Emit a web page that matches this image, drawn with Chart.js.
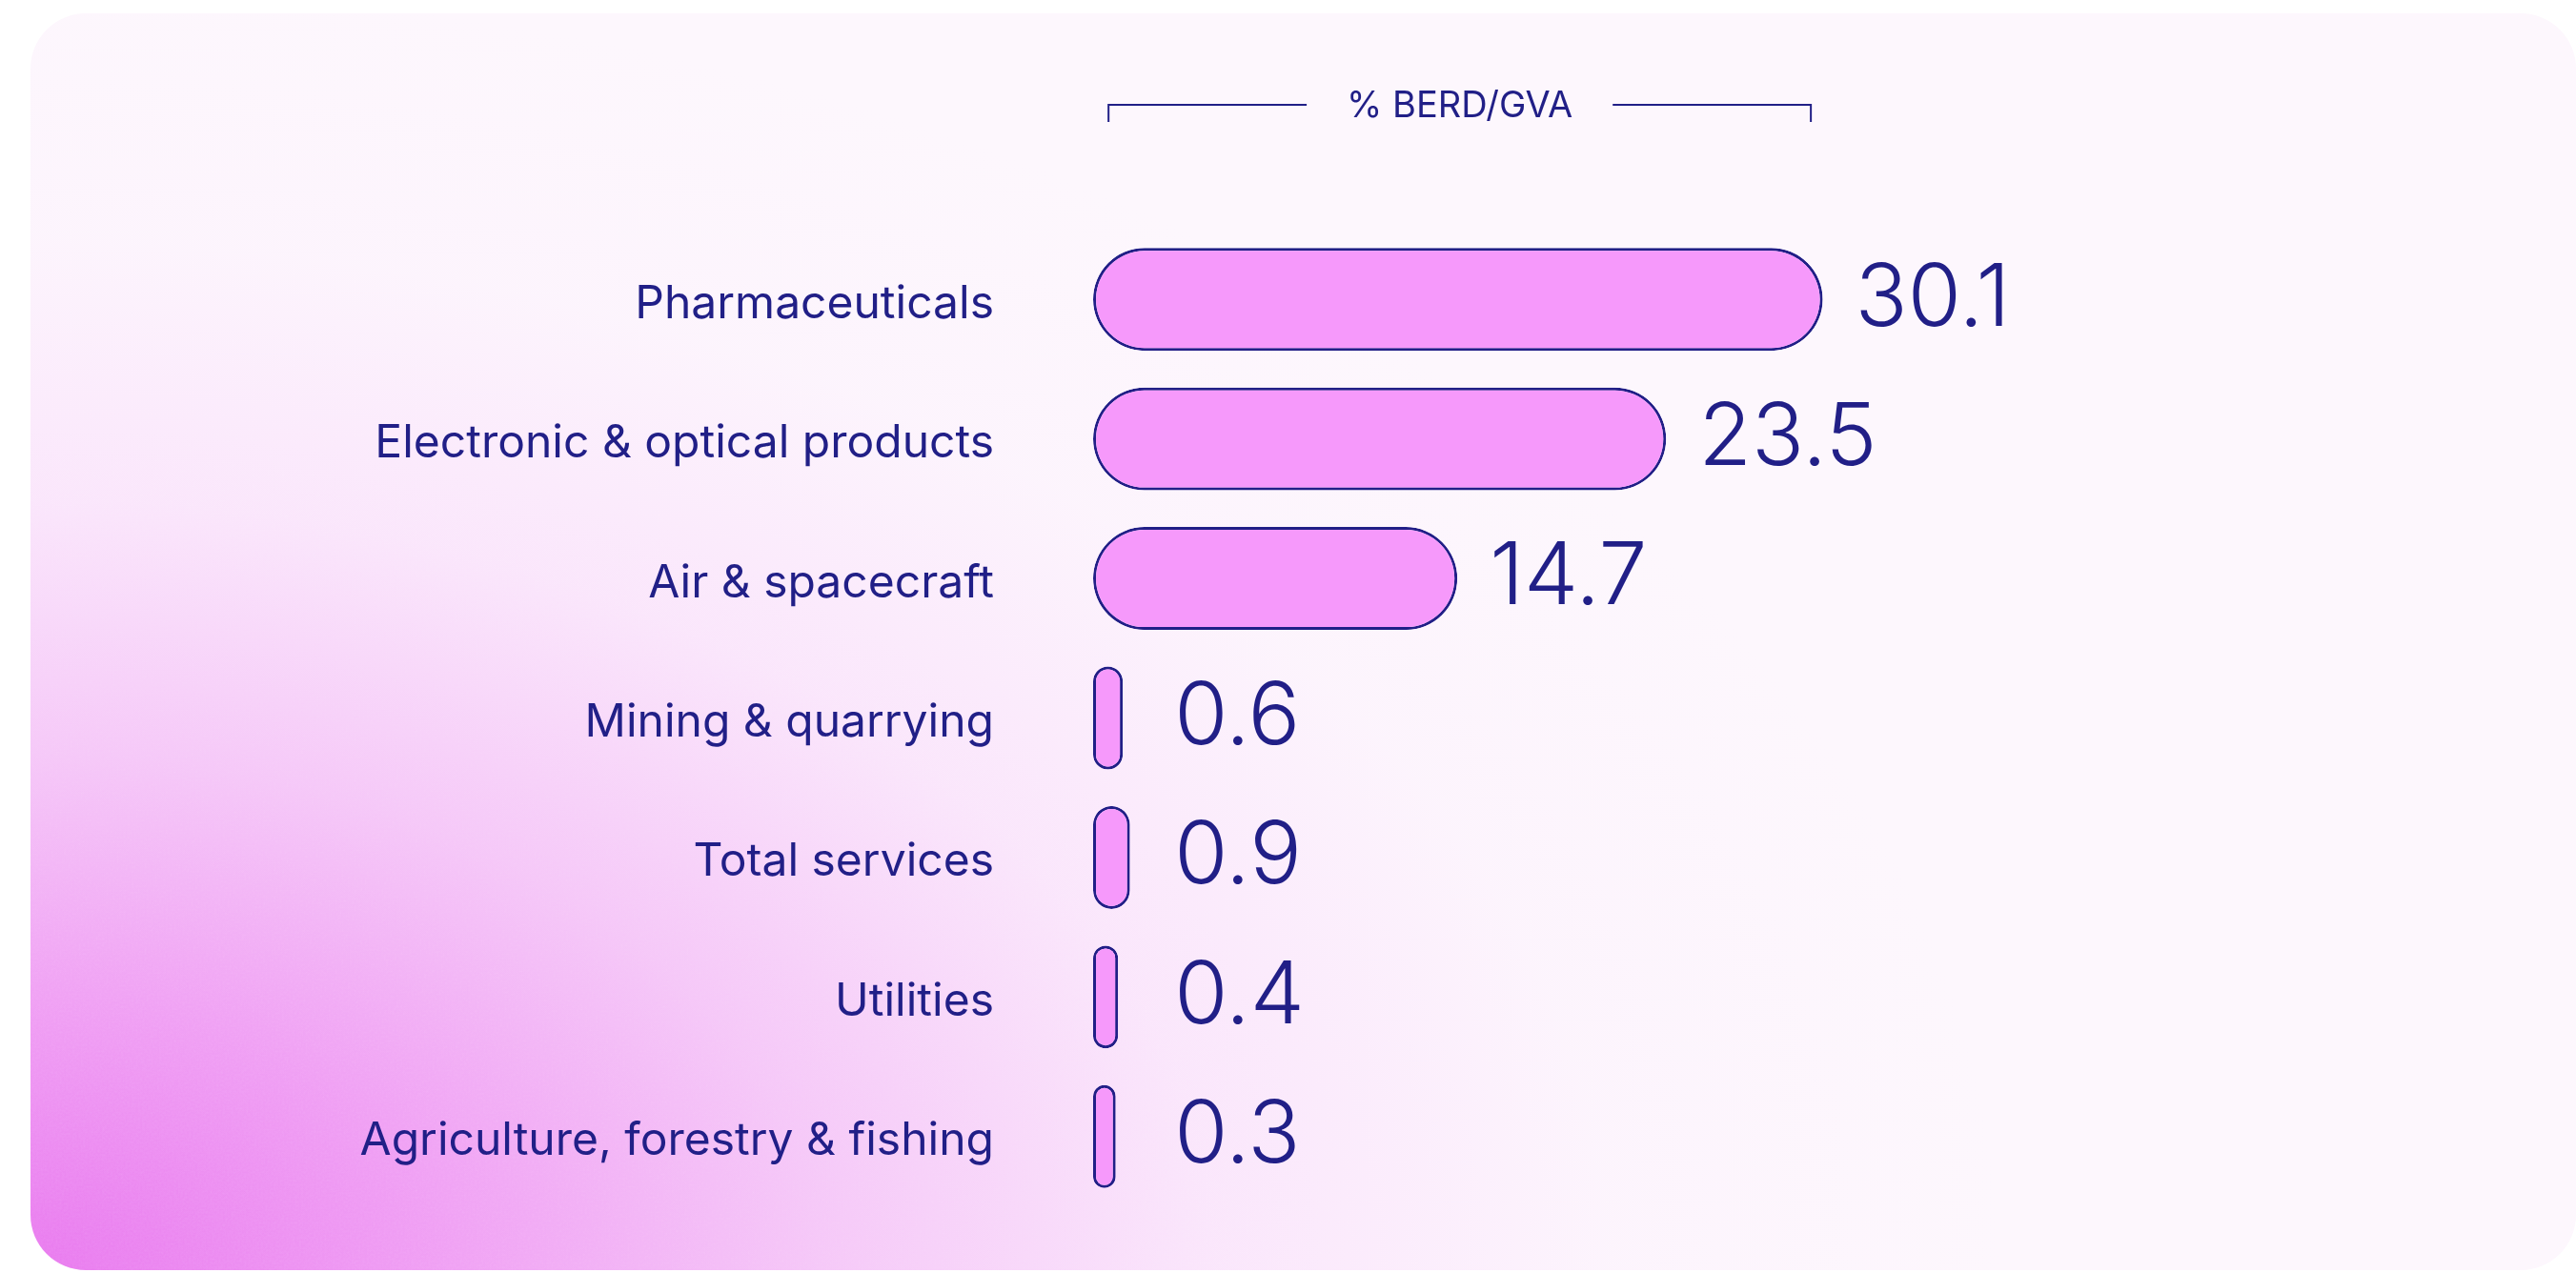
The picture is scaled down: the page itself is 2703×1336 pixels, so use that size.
<!DOCTYPE html>
<html>
<head>
<meta charset="utf-8">
<script src="https://cdn.jsdelivr.net/npm/chart.js@4.4.1/dist/chart.umd.min.js"></script>
<style>
  html, body { margin: 0; padding: 0; width: 2703px; height: 1336px; background: #ffffff; overflow: hidden; }
  #card { position: absolute; left: 32px; top: 14px; width: 2671px; height: 1319px; border-radius: 58px; overflow: hidden; background: #fdf7fd; }
  #grad { position: absolute; inset: 0;
    background: radial-gradient(ellipse 2300px 1500px at 0% 100%,
      rgba(232,118,238,0.98) 0%, rgba(237,142,242,0.85) 18%, rgba(241,170,245,0.62) 36%, rgba(246,203,249,0.38) 54%, rgba(250,230,252,0.16) 72%, rgba(253,247,253,0) 90%); }
  #noise { position: absolute; inset: 0; opacity: 0.35; mix-blend-mode: soft-light;
    -webkit-mask-image: radial-gradient(ellipse 2300px 1500px at 0% 100%, #000 0%, rgba(0,0,0,0.6) 45%, rgba(0,0,0,0) 80%);
            mask-image: radial-gradient(ellipse 2300px 1500px at 0% 100%, #000 0%, rgba(0,0,0,0.6) 45%, rgba(0,0,0,0) 80%); }
  #wrap { position: absolute; left: 0; top: 0; width: 2703px; height: 1336px; }
  canvas { display: block; }
</style>
</head>
<body>
<div id="card">
  <div id="grad"></div>
  <svg id="noise" width="2671" height="1319" xmlns="http://www.w3.org/2000/svg">
    <filter id="nf"><feTurbulence type="fractalNoise" baseFrequency="0.45" numOctaves="3" seed="3"/><feColorMatrix type="saturate" values="0"/></filter>
    <rect width="100%" height="100%" filter="url(#nf)"/>
  </svg>
</div>
<div id="wrap"><canvas id="chart" width="2703" height="1336" style="width:2703px;height:1336px"></canvas></div>
<script>
// ---- data ----
const categories = [
  'Pharmaceuticals',
  'Electronic & optical products',
  'Air & spacecraft',
  'Mining & quarrying',
  'Total services',
  'Utilities',
  'Agriculture, forestry & fishing'
];
const values = [30.1, 23.5, 14.7, 0.6, 0.9, 0.4, 0.3];
const valueLabels = ['30.1', '23.5', '14.7', '0.6', '0.9', '0.4', '0.3'];
const axisTitle = '% BERD/GVA';
const barBase = -0.65;          // bars begin slightly left of zero (pill ends)
const xMin = -0.65;
const xMax = 60;
const bracketRange = [0, 29.6]; // span of the header bracket, in data units

// ---- styles ----
const NAVY = '#211f87';
const PINK = '#f699fb';

const valueLabelPlugin = {
  id: 'valueLabels',
  afterDatasetsDraw(chart) {
    const ctx = chart.ctx;
    const xs = chart.scales.x;
    const minX = xs.getPixelForValue(0) + 69;
    const meta = chart.getDatasetMeta(0);
    ctx.save();
    ctx.fillStyle = NAVY;
    ctx.font = '300 91px Inter, "Liberation Sans", sans-serif';
    ctx.textAlign = 'left';
    ctx.textBaseline = 'middle';
    meta.data.forEach((bar, i) => {
      const x = Math.max(bar.x + 34, minX);
      ctx.fillText(valueLabels[i], x, bar.y);
    });
    ctx.restore();
  }
};

const bracketPlugin = {
  id: 'bracket',
  afterDraw(chart) {
    const ctx = chart.ctx;
    const xs = chart.scales.x;
    const x0 = xs.getPixelForValue(bracketRange[0]);
    const x1 = xs.getPixelForValue(bracketRange[1]);
    const y = 110;
    const cx = (x0 + x1) / 2;
    ctx.save();
    ctx.font = '38px Inter, "Liberation Sans", sans-serif';
    const w = ctx.measureText(axisTitle).width;
    ctx.strokeStyle = NAVY;
    ctx.lineWidth = 2;
    ctx.beginPath();
    ctx.moveTo(x0, y + 18); ctx.lineTo(x0, y); ctx.lineTo(cx - w / 2 - 42, y);
    ctx.moveTo(cx + w / 2 + 42, y); ctx.lineTo(x1, y); ctx.lineTo(x1, y + 18);
    ctx.stroke();
    ctx.fillStyle = NAVY;
    ctx.textAlign = 'center';
    ctx.textBaseline = 'middle';
    ctx.fillText(axisTitle, cx, y + 2);
    ctx.restore();
  }
};

new Chart(document.getElementById('chart'), {
  type: 'bar',
  data: {
    labels: categories,
    datasets: [{
      data: values,
      base: barBase,
      backgroundColor: PINK,
      borderColor: NAVY,
      borderWidth: 3,
      borderRadius: 200,
      borderSkipped: false,
      barPercentage: 0.737,
      categoryPercentage: 1
    }]
  },
  options: {
    indexAxis: 'y',
    responsive: false,
    animation: false,
    devicePixelRatio: 1,
    layout: { padding: { left: 0, right: 46, top: 241, bottom: 70 } },
    plugins: { legend: { display: false }, tooltip: { enabled: false } },
    scales: {
      x: { type: 'linear', min: xMin, max: xMax, display: false },
      y: {
        grid: { display: false, drawTicks: false },
        border: { display: false },
        ticks: { color: NAVY, font: { family: 'Inter, "Liberation Sans", sans-serif', size: 48 }, padding: 104, minRotation: 0, maxRotation: 0, labelOffset: 5 },
        afterFit(scale) { scale.width = 1147; scale.paddingTop = 0; scale.paddingBottom = 0; }
      }
    }
  },
  plugins: [valueLabelPlugin, bracketPlugin]
});
</script>
</body>
</html>
